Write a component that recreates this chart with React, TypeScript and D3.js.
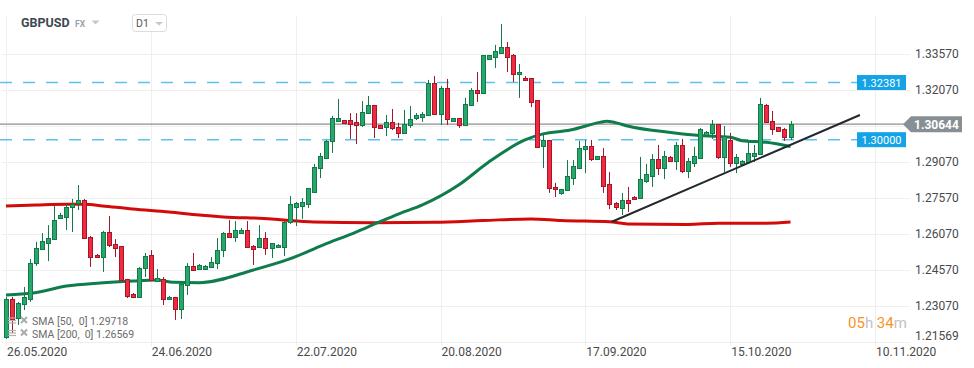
import React from 'react';
import * as d3 from 'd3';

const width = 974;
const height = 368;

// x labels every 24 bars (6 bars a week on this feed)
const dateLabels = ['26.05.2020', '24.06.2020', '22.07.2020', '20.08.2020', '17.09.2020', '15.10.2020', '10.11.2020'];
const barsPerLabel = 24;

const priceTicks = [1.3357, 1.3207, 1.3057, 1.2907, 1.2757, 1.2607, 1.2457, 1.2307];
const bottomTick = 1.21569;

// daily candles [open, high, low, close]
const candles: [number, number, number, number][] = [
  [1.2179, 1.2345, 1.2170, 1.2335], [1.2336, 1.2345, 1.2195, 1.2253], [1.2257, 1.2324, 1.2228, 1.2320],
  [1.2315, 1.2386, 1.2290, 1.2345], [1.2336, 1.2503, 1.2324, 1.2486], [1.2486, 1.2574, 1.2474, 1.2549],
  [1.2544, 1.2611, 1.2540, 1.2578], [1.2569, 1.2644, 1.2494, 1.2590], [1.2586, 1.2724, 1.2582, 1.2665],
  [1.2674, 1.2695, 1.2670, 1.2686], [1.2678, 1.2732, 1.2624, 1.2720], [1.2720, 1.2753, 1.2615, 1.2732],
  [1.2736, 1.2811, 1.2707, 1.2749], [1.2749, 1.2753, 1.2590, 1.2590], [1.2595, 1.2599, 1.2470, 1.2511],
  [1.2520, 1.2524, 1.2507, 1.2511], [1.2511, 1.2620, 1.2449, 1.2615], [1.2615, 1.2682, 1.2553, 1.2561],
  [1.2565, 1.2586, 1.2511, 1.2549], [1.2557, 1.2557, 1.2411, 1.2415], [1.2420, 1.2420, 1.2340, 1.2349],
  [1.2357, 1.2361, 1.2340, 1.2345], [1.2345, 1.2470, 1.2340, 1.2465], [1.2465, 1.2528, 1.2428, 1.2515],
  [1.2520, 1.2540, 1.2415, 1.2415], [1.2411, 1.2461, 1.2407, 1.2424], [1.2420, 1.2428, 1.2311, 1.2336],
  [1.2336, 1.2349, 1.2332, 1.2345], [1.2345, 1.2345, 1.2249, 1.2295], [1.2295, 1.2403, 1.2253, 1.2399],
  [1.2395, 1.2486, 1.2353, 1.2474], [1.2474, 1.2528, 1.2457, 1.2457], [1.2461, 1.2482, 1.2457, 1.2478],
  [1.2462, 1.2478, 1.2461, 1.2475], [1.2470, 1.2511, 1.2465, 1.2490], [1.2486, 1.2590, 1.2461, 1.2540],
  [1.2540, 1.2615, 1.2511, 1.2611], [1.2611, 1.2665, 1.2595, 1.2595], [1.2595, 1.2661, 1.2574, 1.2624],
  [1.2611, 1.2632, 1.2607, 1.2624], [1.2624, 1.2661, 1.2549, 1.2553], [1.2557, 1.2561, 1.2478, 1.2544],
  [1.2553, 1.2644, 1.2549, 1.2590], [1.2590, 1.2615, 1.2520, 1.2549], [1.2549, 1.2569, 1.2507, 1.2569],
  [1.2553, 1.2565, 1.2549, 1.2561], [1.2553, 1.2661, 1.2515, 1.2657], [1.2657, 1.2765, 1.2649, 1.2732],
  [1.2720, 1.2740, 1.2640, 1.2736], [1.2724, 1.2757, 1.2670, 1.2740], [1.2732, 1.2799, 1.2715, 1.2799],
  [1.2782, 1.2899, 1.2782, 1.2886], [1.2882, 1.2945, 1.2840, 1.2932], [1.2924, 1.2999, 1.2920, 1.2995],
  [1.2995, 1.3099, 1.2945, 1.3090], [1.3078, 1.3170, 1.3078, 1.3090], [1.3082, 1.3082, 1.3065, 1.3070],
  [1.3082, 1.3111, 1.3003, 1.3065], [1.3074, 1.3111, 1.2982, 1.3061], [1.3061, 1.3161, 1.3053, 1.3115],
  [1.3111, 1.3182, 1.3107, 1.3145], [1.3145, 1.3145, 1.3007, 1.3053], [1.3061, 1.3061, 1.3049, 1.3049],
  [1.3053, 1.3103, 1.3015, 1.3074], [1.3074, 1.3128, 1.3040, 1.3049], [1.3053, 1.3070, 1.3007, 1.3028],
  [1.3028, 1.3124, 1.3028, 1.3065], [1.3061, 1.3140, 1.3049, 1.3086], [1.3090, 1.3111, 1.3082, 1.3103],
  [1.3095, 1.3115, 1.3074, 1.3107], [1.3103, 1.3249, 1.3103, 1.3236], [1.3236, 1.3265, 1.3103, 1.3107],
  [1.3107, 1.3224, 1.3061, 1.3215], [1.3215, 1.3253, 1.3061, 1.3086], [1.3078, 1.3090, 1.3078, 1.3090],
  [1.3090, 1.3090, 1.3049, 1.3061], [1.3061, 1.3174, 1.3061, 1.3149], [1.3145, 1.3215, 1.3140, 1.3207],
  [1.3207, 1.3282, 1.3157, 1.3195], [1.3195, 1.3353, 1.3190, 1.3353], [1.3336, 1.3353, 1.3336, 1.3353],
  [1.3345, 1.3395, 1.3299, 1.3370], [1.3361, 1.3482, 1.3357, 1.3386], [1.3386, 1.3407, 1.3282, 1.3345],
  [1.3353, 1.3357, 1.3240, 1.3274], [1.3274, 1.3315, 1.3174, 1.3282], [1.3257, 1.3265, 1.3249, 1.3249],
  [1.3257, 1.3257, 1.3136, 1.3157], [1.3165, 1.3165, 1.2970, 1.2970], [1.2974, 1.3020, 1.2882, 1.2999],
  [1.2999, 1.2999, 1.2778, 1.2799], [1.2803, 1.2820, 1.2761, 1.2795], [1.2778, 1.2795, 1.2770, 1.2795],
  [1.2790, 1.2915, 1.2790, 1.2849], [1.2840, 1.2915, 1.2811, 1.2890], [1.2882, 1.2995, 1.2882, 1.2965],
  [1.2961, 1.2999, 1.2861, 1.2974], [1.2974, 1.2999, 1.2911, 1.2920], [1.2920, 1.2932, 1.2920, 1.2932],
  [1.2932, 1.2965, 1.2778, 1.2807], [1.2815, 1.2865, 1.2711, 1.2732], [1.2736, 1.2740, 1.2707, 1.2720],
  [1.2715, 1.2778, 1.2686, 1.2749], [1.2749, 1.2803, 1.2699, 1.2736], [1.2761, 1.2765, 1.2749, 1.2753],
  [1.2757, 1.2928, 1.2753, 1.2836], [1.2828, 1.2899, 1.2820, 1.2857], [1.2849, 1.2940, 1.2803, 1.2920],
  [1.2920, 1.2978, 1.2853, 1.2882], [1.2882, 1.2953, 1.2836, 1.2932], [1.2928, 1.2932, 1.2907, 1.2911],
  [1.2911, 1.2990, 1.2874, 1.2978], [1.2978, 1.3003, 1.2861, 1.2870], [1.2870, 1.2924, 1.2840, 1.2911],
  [1.2903, 1.2970, 1.2886, 1.2932], [1.2924, 1.3049, 1.2920, 1.3045], [1.3020, 1.3036, 1.3015, 1.3032],
  [1.3028, 1.3082, 1.3003, 1.3065], [1.3065, 1.3065, 1.2920, 1.2928], [1.2928, 1.3057, 1.2865, 1.3015],
  [1.2999, 1.3028, 1.2886, 1.2903], [1.2903, 1.2940, 1.2861, 1.2928], [1.2899, 1.2915, 1.2895, 1.2911],
  [1.2907, 1.2990, 1.2903, 1.2945], [1.2932, 1.2978, 1.2907, 1.2945], [1.2940, 1.3174, 1.2940, 1.3149],
  [1.3145, 1.3149, 1.3070, 1.3074], [1.3078, 1.3120, 1.3020, 1.3045], [1.3053, 1.3053, 1.3036, 1.3036],
  [1.3045, 1.3049, 1.2995, 1.3011], [1.3011, 1.3078, 1.2999, 1.30644],
];

// moving averages: [bar index, value]
const sma50: [number, number][] = [
  [0, 1.2353], [4.5, 1.2361], [10, 1.2390], [15.6, 1.2403], [21, 1.2411], [25, 1.2415], [27.7, 1.2406],
  [32, 1.2404], [41, 1.2457], [47, 1.2503], [52.5, 1.2561], [58, 1.2615], [61.5, 1.2653], [65, 1.2690],
  [69, 1.2728], [75, 1.2811], [80, 1.2907], [86, 1.2999], [89, 1.3024], [93.5, 1.3040], [98.4, 1.3072],
  [99.5, 1.3077], [101, 1.3071], [103, 1.3057], [110.5, 1.3029], [115, 1.3017], [120, 1.3010],
  [122, 1.2996], [126, 1.2989], [130, 1.29718],
];
const sma200: [number, number][] = [
  [0, 1.2724], [5, 1.2728], [10, 1.2731], [13, 1.2731], [16, 1.2724], [21, 1.2711], [27, 1.2699],
  [32, 1.2686], [36, 1.2678], [44, 1.2670], [47, 1.2663], [51, 1.2657], [61, 1.2654], [71, 1.2656],
  [79, 1.2663], [87, 1.2670], [92, 1.2663], [100, 1.2658], [103, 1.2649], [113, 1.2647], [118, 1.2652],
  [126, 1.2652], [130, 1.26569],
];
const trendLine: [number, number][] = [[100.4, 1.2658], [141.5, 1.3103]];
const levels = [1.32381, 1.3];
const lastPrice = 1.30644;
const legendItems = ['SMA [50,  0] 1.29718', 'SMA [200,  0] 1.26569'];

const font = 'Roboto, "Noto Sans", sans-serif';

const App: React.FC = () => {
  const plotRight = 910;
  const x = d3.scaleLinear().domain([0, 144]).range([6, 875]);
  const y = d3.scaleLinear().domain([1.2157, 1.3357]).range([342, 54]);

  const line = d3
    .line<[number, number]>()
    .x((d) => x(d[0]))
    .y((d) => y(d[1]))
    .curve(d3.curveMonotoneX);

  const up = { fill: '#27a86b', stroke: '#13784a' };
  const down = { fill: '#f22a40', stroke: '#a6162b' };

  // the price tag hides the tick label underneath it
  const visibleTicks = priceTicks.filter((t) => Math.abs(y(t) - y(lastPrice)) > 10);

  return (
    <svg
      width={width}
      height={height}
      style={{ position: 'absolute', left: 0, top: 0, background: '#fff', fontFamily: font }}
    >
      {/* grid */}
      <g stroke="#efefef" strokeWidth={1}>
        {priceTicks.map((t) => (
          <line key={t} x1={2} x2={plotRight} y1={Math.round(y(t)) + 0.5} y2={Math.round(y(t)) + 0.5} />
        ))}
        <line x1={2} x2={plotRight} y1={342.5} y2={342.5} />
        {dateLabels.map((d, i) => (
          <line
            key={d}
            x1={Math.round(x(i * barsPerLabel)) + 0.5}
            x2={Math.round(x(i * barsPerLabel)) + 0.5}
            y1={16}
            y2={346}
          />
        ))}
      </g>

      {/* horizontal levels */}
      {levels.map((lv) => (
        <g key={lv}>
          <line
            x1={0}
            x2={857}
            y1={y(lv)}
            y2={y(lv)}
            stroke="#5cc0f0"
            strokeWidth={1.6}
            strokeDasharray="12 11"
          />
          <rect x={857} y={y(lv) - 7.5} width={49} height={15} fill="#14a3e6" />
          <text x={881.5} y={y(lv) + 4} textAnchor="middle" fill="#fff" fontSize={11}>
            {lv.toFixed(5)}
          </text>
        </g>
      ))}
      <line x1={0} x2={905} y1={y(lastPrice)} y2={y(lastPrice)} stroke="#8e8e8e" strokeWidth={1.2} />

      {/* moving averages */}
      <path d={line(sma200) ?? ''} fill="none" stroke="#d20a0a" strokeWidth={3} />
      <path d={line(sma50) ?? ''} fill="none" stroke="#0f7c4b" strokeWidth={3} />

      {/* candles */}
      {candles.map(([o, h, l, c], i) => {
        const cx = Math.round(x(i));
        const col = c >= o ? up : down;
        const top = Math.round(y(Math.max(o, c)));
        const bot = Math.round(y(Math.min(o, c)));
        return (
          <g key={i}>
            <line x1={cx + 0.5} x2={cx + 0.5} y1={y(h)} y2={y(l)} stroke={col.stroke} strokeWidth={1} />
            <rect
              x={cx - 1.5}
              y={top + 0.5}
              width={4}
              height={Math.max(bot - top, 1)}
              fill={col.fill}
              stroke={col.stroke}
              strokeWidth={1}
            />
          </g>
        );
      })}

      {/* trend line */}
      <line
        x1={x(trendLine[0][0])}
        y1={y(trendLine[0][1])}
        x2={x(trendLine[1][0])}
        y2={y(trendLine[1][1])}
        stroke="#23272e"
        strokeWidth={2}
      />

      {/* right axis */}
      <g fontSize={12} fill="#4a4a4a">
        {visibleTicks.map((t) => (
          <text key={t} x={915} y={y(t) + 4}>
            {t.toFixed(5)}
          </text>
        ))}
        <text x={915} y={y(bottomTick) - 2}>
          {bottomTick.toFixed(5)}
        </text>
      </g>

      {/* last price tag */}
      <polygon
        points={`903,${y(lastPrice)} 911,${y(lastPrice) - 8} 962,${y(lastPrice) - 8} 962,${y(lastPrice) + 8} 911,${y(lastPrice) + 8}`}
        fill="#878f94"
      />
      <text x={936.5} y={y(lastPrice) + 4.5} textAnchor="middle" fontSize={12} fontWeight="bold" fill="#fff">
        {lastPrice.toFixed(5)}
      </text>

      {/* bottom axis */}
      <g fontSize={12} fill="#4a4a4a">
        {dateLabels.map((d, i) => (
          <text key={d} x={x(i * barsPerLabel) + 1} y={356}>
            {d}
          </text>
        ))}
      </g>

      {/* header */}
      <text x={21} y={27} fontSize={12.5} fontWeight="bold" fill="#3d4852">
        GBPUSD
      </text>
      <text x={75} y={27} fontSize={8.5} fontWeight="bold" fill="#9aa3aa">
        FX
      </text>
      <path d="M91.5,20.5 L99.5,20.5 L95.5,24.5 Z" fill="#c4c8cc" />
      <rect x={132.5} y={14.5} width={34} height={17} rx={3} fill="#fff" stroke="#dcdcdc" />
      <text x={136} y={27} fontSize={10.5} fill="#555">
        D1
      </text>
      <path d="M155,22 L163,22 L159,25.5 Z" fill="#c4c8cc" />

      {/* legend */}
      {legendItems.map((t, i) => {
        const ly = 322 + i * 12.5;
        return (
          <g key={t}>
            <g stroke="#b0b0b0" strokeWidth={1.2}>
              <line x1={8} x2={16} y1={ly - 4} y2={ly - 4} />
              <line x1={8} x2={16} y1={ly - 1.5} y2={ly - 1.5} />
              <line x1={8} x2={16} y1={ly + 1} y2={ly + 1} />
            </g>
            <g stroke="#aaaaaa" strokeWidth={2}>
              <line x1={21} x2={27} y1={ly - 5} y2={ly + 1} />
              <line x1={27} x2={21} y1={ly - 5} y2={ly + 1} />
            </g>
            <text x={32} y={ly + 3} fontSize={10.5} fill="#6b6b6b" style={{ whiteSpace: 'pre' }}>
              {t}
            </text>
          </g>
        );
      })}

      {/* timer */}
      <text x={848} y={328} fontSize={15}>
        <tspan fill="#f7941d">05</tspan>
        <tspan fill="#c2c2c2">h </tspan>
        <tspan fill="#f7941d">34</tspan>
        <tspan fill="#c2c2c2">m</tspan>
      </text>
    </svg>
  );
};

export default App;
